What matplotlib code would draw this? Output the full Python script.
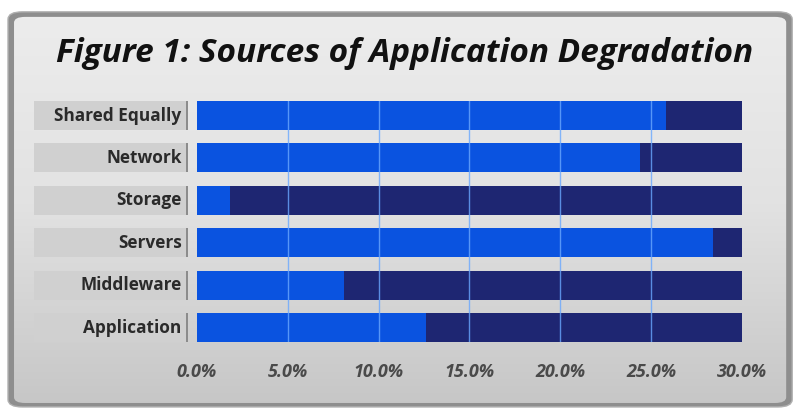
import numpy as np
import matplotlib.pyplot as plt
from matplotlib.patches import FancyBboxPatch
from matplotlib.colors import LinearSegmentedColormap

categories = ['Shared Equally', 'Network', 'Storage', 'Servers', 'Middleware', 'Application']
values = [25.8, 24.4, 1.8, 28.4, 8.1, 12.6]
axis_max = 30.0
ticks = [0, 5, 10, 15, 20, 25, 30]
tick_labels = ['0.0%', '5.0%', '10.0%', '15.0%', '20.0%', '25.0%', '30.0%']

bright = '#0a53e0'
navy = '#1e2672'
font = 'Open Sans'

fig = plt.figure(figsize=(8.01, 4.09), dpi=100)
fig.patch.set_facecolor('white')

# background: grey frame with a light gradient panel inside
bg = fig.add_axes([0, 0, 1, 1], zorder=-5)
bg.set_xlim(0, 1)
bg.set_ylim(0, 1)
bg.axis('off')
frame = FancyBboxPatch((0.010, 0.005), 0.979, 0.966, boxstyle='round,pad=0,rounding_size=0.018',
                       facecolor='#8e8e8e', edgecolor='#b0b0b0', linewidth=1, zorder=0)
bg.add_patch(frame)
inner = FancyBboxPatch((0.0175, 0.0147), 0.964, 0.944, boxstyle='round,pad=0,rounding_size=0.014',
                       facecolor='none', edgecolor='none', zorder=0)
bg.add_patch(inner)
panel_cmap = LinearSegmentedColormap.from_list('panel', ['#ededed', '#e2e2e2', '#c6c6c6'])
grad = np.linspace(0, 1, 256).reshape(-1, 1)
img = bg.imshow(grad, extent=(0, 1, 0, 1), aspect='auto', cmap=panel_cmap, origin='upper', zorder=2)
img.set_clip_path(inner)
bg.set_xlim(0, 1)
bg.set_ylim(0, 1)

fig.text(0.505, 0.848, 'Figure 1: Sources of Application Degradation', ha='center', va='baseline',
         fontsize=24, fontweight='bold', style='italic', family=font, color='#111111')

ax = fig.add_axes([0.2459, 0.1638, 0.6804, 0.589])
ax.set_facecolor('none')
y = list(range(len(categories)))
h = 0.684

# label bands behind category names
ax.barh(y, [8.4] * len(y), left=-8.95, height=h, color='#d0d0d0', clip_on=False, zorder=0)
ax.barh(y, [0.12] * len(y), left=-0.62, height=h, color='#8c8c8c', clip_on=False, zorder=1)

ax.barh(y, [axis_max] * len(y), height=h, color=navy, zorder=1)
ax.barh(y, values, height=h, color=bright, zorder=2)
for t in ticks[1:-1]:
    ax.axvline(t, color='#6aa8ff', linewidth=1, alpha=0.8, zorder=3)

for yi, name in zip(y, categories):
    ax.text(-0.85, yi, name, ha='right', va='center', fontsize=12.4, fontweight='bold',
            family=font, color='#2a2a2a')

ax.set_xlim(0, axis_max)
ax.set_ylim(len(categories) - 1 + 0.342, -0.342)
ax.set_yticks([])
ax.set_xticks(ticks)
ax.set_xticklabels(tick_labels, fontsize=13, fontweight='bold', style='italic', family=font,
                   color='#4a4a4a')
ax.tick_params(axis='x', length=0, pad=15)
for s in ax.spines.values():
    s.set_visible(False)

fig.savefig('out.png', dpi=100, facecolor='white')
